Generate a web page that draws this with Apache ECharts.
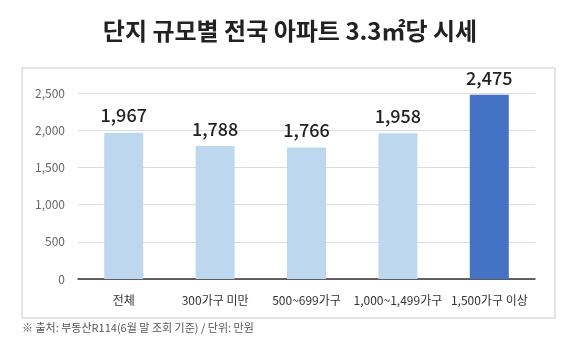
<!DOCTYPE html>
<html>
<head>
<meta charset="utf-8">
<script src="https://cdn.jsdelivr.net/npm/echarts@6/dist/echarts.min.js"></script>
<style>
  html, body { margin: 0; padding: 0; background: #fff; }
  #chart { width: 580px; height: 353px; }
</style>
</head>
<body>
<div id="chart"></div>
<script>
// 데이터
const categories = ["전체", "300가구 미만", "500~699가구", "1,000~1,499가구", "1,500가구 이상"];
const values = [1967, 1788, 1766, 1958, 2475];
const highlight = [false, false, false, false, true];

const FONT = "'Noto Sans CJK KR', 'Noto Sans', sans-serif";

let chart = echarts.init(document.getElementById("chart"));

let option = {
  backgroundColor: "#fff",
  animation: false,
  title: {
    text: "단지 규모별 전국 아파트 3.3㎡당 시세",
    left: "center",
    top: 14,
    textStyle: { fontFamily: FONT, fontSize: 24, fontWeight: "bold", color: "#222" }
  },
  graphic: [
    {
      type: "rect",
      shape: { x: 22, y: 68, width: 533, height: 250 },
      style: { fill: "none", stroke: "#c8c8c8", lineWidth: 1 },
      z: -1
    },
    {
      type: "text",
      left: 22,
      top: 322,
      style: {
        text: "※ 출처: 부동산R114(6월 말 조회 기준) / 단위: 만원",
        fontFamily: FONT, fontSize: 11, fill: "#555"
      }
    }
  ],
  grid: { left: 78, right: 45, top: 93, bottom: 74, containLabel: false },
  xAxis: {
    type: "category",
    data: categories,
    axisTick: { show: false },
    axisLine: { lineStyle: { color: "#333", width: 1.5 } },
    axisLabel: { fontFamily: FONT, fontSize: 12, color: "#333", margin: 15, interval: 0 }
  },
  yAxis: {
    type: "value",
    min: 0,
    max: 2500,
    interval: 500,
    axisLine: { show: false },
    axisTick: { show: false },
    splitLine: { lineStyle: { color: "#dcdcdc" } },
    axisLabel: {
      fontFamily: FONT, fontSize: 12, color: "#666", margin: 13,
      formatter: v => v.toLocaleString("en-US")
    }
  },
  series: [{
    type: "bar",
    barWidth: 39,
    data: values.map((v, i) => ({
      value: v,
      itemStyle: { color: highlight[i] ? "#4472C4" : "#BDD7EE" }
    })),
    label: {
      show: true,
      position: "top",
      distance: 8,
      fontFamily: FONT, fontSize: 18, fontWeight: 500, color: "#222",
      formatter: p => p.value.toLocaleString("en-US")
    }
  }]
};

chart.setOption(option);
</script>
</body>
</html>
